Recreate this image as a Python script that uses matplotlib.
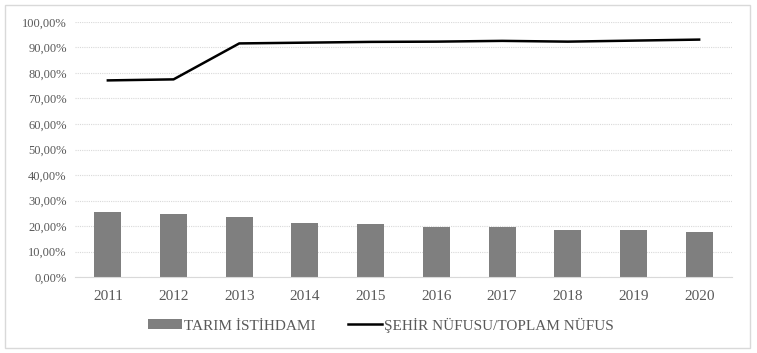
import matplotlib
matplotlib.use("Agg")
import matplotlib.pyplot as plt
from matplotlib.patches import Rectangle
from matplotlib.ticker import FuncFormatter, MultipleLocator

years = ["2011", "2012", "2013", "2014", "2015", "2016", "2017", "2018", "2019", "2020"]
tarim = [25.5, 24.9, 23.6, 21.2, 20.8, 19.6, 19.6, 18.4, 18.4, 17.7]
sehir = [77.1, 77.5, 91.6, 91.9, 92.2, 92.3, 92.6, 92.3, 92.7, 93.1]
bar_label = "TARIM İSTİHDAMI"
line_label = "ŞEHİR NÜFUSU/TOPLAM NÜFUS"

plt.rcParams['font.family'] = ['Liberation Serif', 'DejaVu Serif']

W, H = 757, 353
fig = plt.figure(figsize=(W / 100, H / 100), dpi=100)
fig.patches.append(Rectangle((5 / W, 5 / H), 745 / W, 343 / H, transform=fig.transFigure,
                             fill=False, edgecolor="#d9d9d9", linewidth=1.0))

ax = fig.add_axes([75 / W, 1 - 277 / H, (732 - 75) / W, (277 - 22) / H])
x = list(range(len(years)))
bars = ax.bar(x, tarim, width=0.41, color="#7f7f7f", label=bar_label, zorder=2)
line, = ax.plot(x, sehir, color="black", linewidth=1.8, label=line_label, zorder=3)

ax.set_xlim(-0.5, len(years) - 0.5)
ax.set_ylim(0, 100)
ax.yaxis.set_major_locator(MultipleLocator(10))
ax.yaxis.set_major_formatter(FuncFormatter(lambda v, p: f"{v:.2f}%".replace(".", ",")))
ax.set_xticks(x)
ax.set_xticklabels(years)
ax.grid(axis="y", color="#d9d9d9", linestyle=(0, (1, 1)), linewidth=0.8, zorder=0)
for s in ["top", "right", "left"]:
    ax.spines[s].set_visible(False)
ax.spines["bottom"].set_color("#d9d9d9")
ax.tick_params(axis="both", length=0, colors="#595959")
ax.tick_params(axis="x", labelsize=11, pad=9)
ax.tick_params(axis="y", labelsize=9, pad=6)

leg = fig.legend(handles=[bars, line], labels=[bar_label, line_label],
                 loc="center", bbox_to_anchor=(381 / W, 1 - 325 / H), ncol=2, frameon=False,
                 fontsize=11, handlelength=2.2, handleheight=0.6, handletextpad=0.15,
                 columnspacing=2.1, labelcolor="#595959")
fig.savefig("out.png", dpi=100)
